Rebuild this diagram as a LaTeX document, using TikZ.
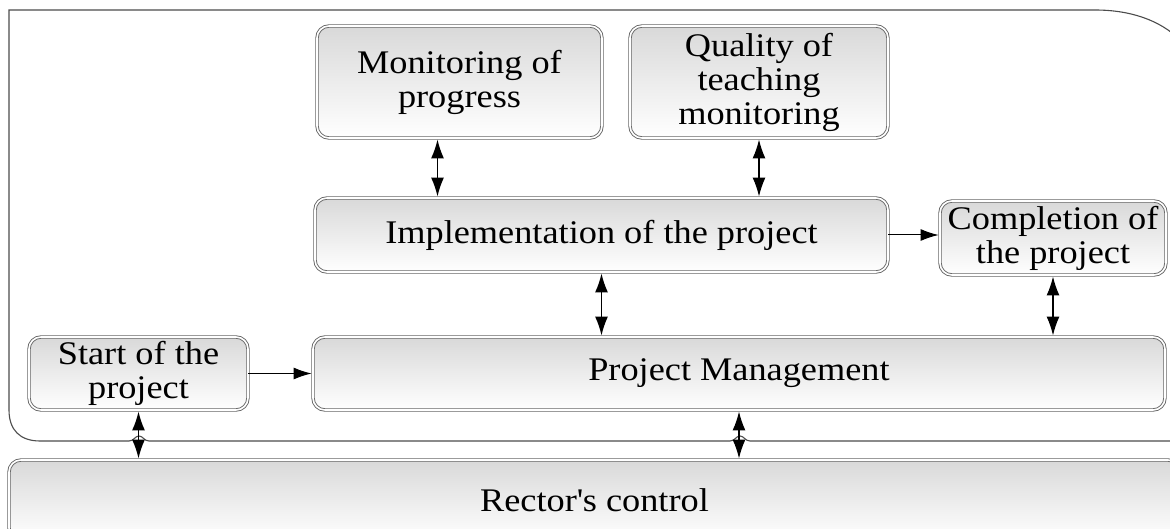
\documentclass[tikz,border=0pt]{standalone}
\usepackage{fontspec}
\setmainfont[FakeStretch=1.1]{Liberation Serif}
\usepackage{tikz}
\usetikzlibrary{arrows.meta,positioning}

\begin{document}
\begin{tikzpicture}[
x=1pt,y=-1pt,
font=\fontsize{33}{34}\selectfont,
block/.style={draw=gray!80!black,line width=0.9pt,double=white,double distance=1.6pt,
  rounded corners=12pt,top color=black!15,bottom color=white,align=center,
  inner sep=0pt},
twoway/.style={{Latex[length=19pt,width=13pt]}-{Latex[length=19pt,width=13pt]},line width=1.4pt,shorten >=1pt,shorten <=1pt},
oneway/.style={-{Latex[length=18pt,width=12pt]},line width=1pt,shorten >=1pt},
scale=1]
    % page
    \useasboundingbox (0,0) rectangle (1170,529);
    \clip (0,0) rectangle (1170,529);

    % Draw boxes
    \node[block,minimum width=285pt,minimum height=112pt] (mon) at (459.5,82) {Monitoring of\\progress};
    \node[block,minimum width=258pt,minimum height=112pt] (qual) at (759,82) {Quality of\\teaching\\monitoring};
    \node[block,minimum width=573pt,minimum height=74pt] (impl) at (601.5,235) {Implementation of the project};
    \node[block,minimum width=226pt,minimum height=74pt] (compl) at (1053,238) {Completion of\\the project};
    \node[block,minimum width=219pt,minimum height=73pt] (start) at (138.5,373.5) {Start of the\\project};
    \node[block,minimum width=852pt,minimum height=73pt] (pm) at (739,373.5) {Project Management};
    \node[block,minimum width=1171pt,minimum height=80pt] (rector) at (594.5,500) {Rector\textquotesingle s control};

    % outer frame
    \draw[gray!60!black,line width=1.1pt]
        (1190,441) -- (750,441) .. controls (745,441) and (744,436) .. (740,436)
        .. controls (736,436) and (735,441) .. (730,441) -- (149,441)
        .. controls (144,441) and (143,436) .. (139,436)
        .. controls (135,436) and (134,441) .. (129,441) -- (40,441)
        .. controls (20,441) and (9,430) .. (9,410) -- (9,10) -- (1095,10)
        .. controls (1130,10) and (1160,20) .. (1180,40);

    % Draw arrows
    \draw[twoway] ([xshift=-22pt]mon.south) -- ([xshift=-22pt]mon.south |- impl.north);
    \draw[twoway] (qual.south) -- (qual.south |- impl.north);
    \draw[oneway] (impl.east) -- (impl.east -| compl.west);
    \draw[twoway] (impl.south) -- (impl.south |- pm.north);
    \draw[twoway] (compl.south) -- (compl.south |- pm.north);
    \draw[oneway] (start) -- (pm);
    \draw[twoway] (start.south) -- (start.south |- rector.north);
    \draw[twoway] (pm.south) -- (pm.south |- rector.north);
\end{tikzpicture}
\end{document}
